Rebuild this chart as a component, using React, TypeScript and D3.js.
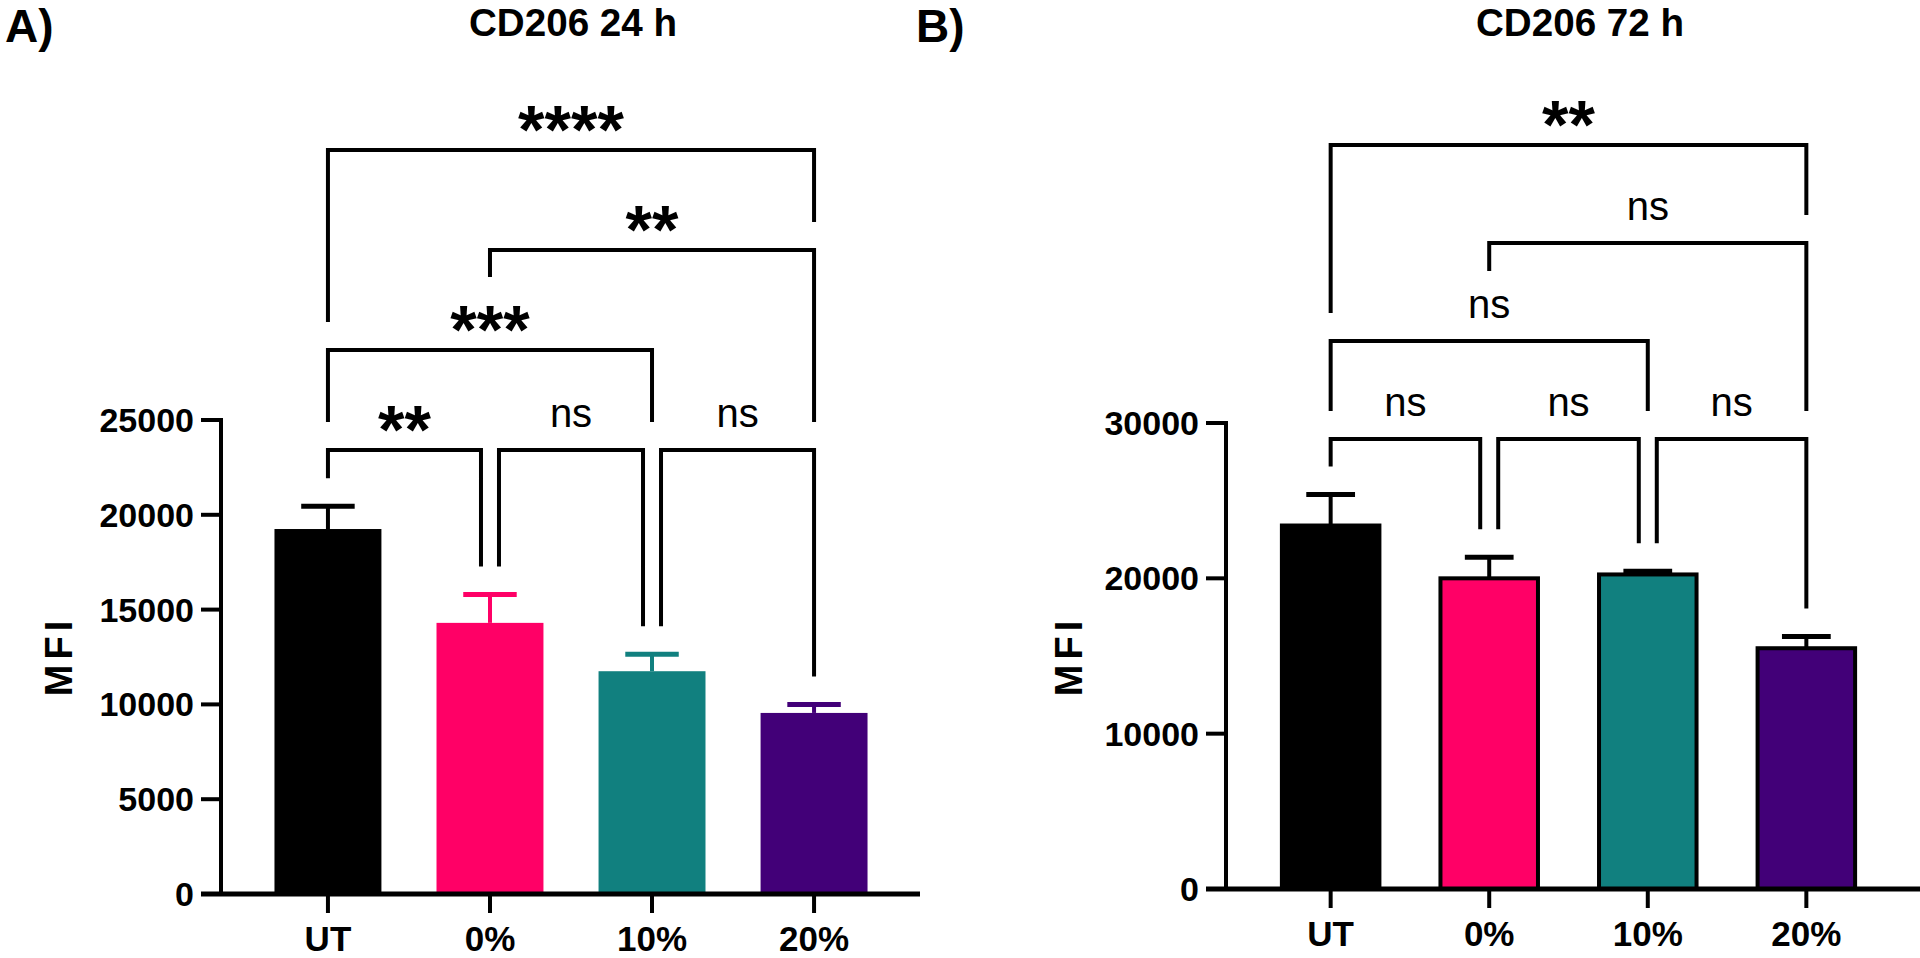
import * as d3 from "d3";

// categories and values
const categories = ["UT", "0%", "10%", "20%"];
const barColors = ["#000000", "#ff0066", "#11807f", "#420078"];

const mean24 = [19250, 14300, 11750, 9550];
const sem24 = [1200, 1500, 900, 450];
const ticks24 = [0, 5000, 10000, 15000, 20000, 25000];
// [from, to, label, row]
const tests24: [number, number, string, number][] = [
  [0, 1, "**", 0],
  [1, 2, "ns", 0],
  [2, 3, "ns", 0],
  [0, 2, "***", 1],
  [1, 3, "**", 2],
  [0, 3, "****", 3],
];

const mean72 = [23400, 20000, 20250, 15500];
const sem72 = [2000, 1350, 200, 750];
const ticks72 = [0, 10000, 20000, 30000];
const tests72: [number, number, string, number][] = [
  [0, 1, "ns", 0],
  [1, 2, "ns", 0],
  [2, 3, "ns", 0],
  [0, 2, "ns", 1],
  [1, 3, "ns", 2],
  [0, 3, "**", 3],
];

const FONT = "'Liberation Sans', Arial, sans-serif";

type PanelProps = {
  tag: string;
  tagX: number;
  title: string;
  titleX: number;
  means: number[];
  sems: number[];
  ticks: number[];
  tests: [number, number, string, number][];
  axisX: number;
  xEnd: number;
  axisEnd: number;
  y0: number;
  yTop: number;
  mfiX: number;
  rowY: number;
  rowGap: number;
  outlined: boolean;
};

function Panel(p: PanelProps) {
  const yMax = p.ticks[p.ticks.length - 1];
  const y = d3.scaleLinear().domain([0, yMax]).range([p.y0, p.yTop]);
  const x = d3.scalePoint<string>().domain(categories).range([p.axisX, p.xEnd]).padding(0.66);
  const step = x.step();
  const bw = step * (p.outlined ? 0.615 : 0.66);
  const capW = bw / 2;

  const brackets = p.tests.map((t) => {
    const [a, b, label, row] = t;
    const shareLeft = p.tests.some((o) => o !== t && o[3] === row && o[1] === a);
    const shareRight = p.tests.some((o) => o !== t && o[3] === row && o[0] === b);
    const x1 = (x(categories[a]) as number) + (shareLeft ? 9 : 0);
    const x2 = (x(categories[b]) as number) - (shareRight ? 9 : 0);
    const ly = p.rowY - row * p.rowGap;
    const stars = label !== "ns";
    return {
      a, b, label, row, x1, x2, y: ly, stars,
      cx: (x1 + x2) / 2,
      half: stars ? label.length * 14 : 21,
      top: ly - (stars ? 47 : 44),
    };
  });

  // a bracket leg stops just above whatever sits below it
  const legEnd = (xx: number, col: number, row: number) => {
    const cands = [y(p.means[col] + p.sems[col]) - 28];
    brackets.forEach((o) => {
      if (o.row >= row) return;
      if (xx >= o.x1 - 20 && xx <= o.x2 + 20) cands.push(o.y - 28);
      if (Math.abs(xx - o.cx) <= o.half) cands.push(o.top - 26);
    });
    return Math.min(...cands);
  };

  return (
    <g>
      <text x={p.tagX} y={42} fontFamily={FONT} fontWeight="bold" fontSize={46}>
        {p.tag}
      </text>
      <text
        x={p.titleX}
        y={36}
        textAnchor="middle"
        fontFamily={FONT}
        fontWeight="bold"
        fontSize={38}
        textLength={208}
        lengthAdjust="spacingAndGlyphs"
      >
        {p.title}
      </text>

      {/* bars */}
      {categories.map((c, i) => {
        const cx = x(c) as number;
        return (
          <g key={c}>
            <rect
              x={cx - bw / 2}
              y={y(p.means[i])}
              width={bw}
              height={p.y0 - y(p.means[i])}
              fill={barColors[i]}
              stroke={p.outlined ? "#000" : "none"}
              strokeWidth={4}
            />
            <line
              x1={cx}
              x2={cx}
              y1={y(p.means[i])}
              y2={y(p.means[i] + p.sems[i])}
              stroke={p.outlined ? "#000" : barColors[i]}
              strokeWidth={4}
            />
            <line
              x1={cx - capW / 2}
              x2={cx + capW / 2}
              y1={y(p.means[i] + p.sems[i])}
              y2={y(p.means[i] + p.sems[i])}
              stroke={p.outlined ? "#000" : barColors[i]}
              strokeWidth={5}
            />
          </g>
        );
      })}

      {/* axes */}
      <line x1={p.axisX} x2={p.axisX} y1={p.yTop - 2} y2={p.y0 + 2} stroke="#000" strokeWidth={4} />
      <line x1={p.axisX - 20} x2={p.axisEnd} y1={p.y0} y2={p.y0} stroke="#000" strokeWidth={5} />
      {p.ticks.map((t) => (
        <g key={t}>
          <line x1={p.axisX - 20} x2={p.axisX} y1={y(t)} y2={y(t)} stroke="#000" strokeWidth={4} />
          <text
            x={p.axisX - 27}
            y={y(t) + 12}
            textAnchor="end"
            fontFamily={FONT}
            fontWeight="bold"
            fontSize={34}
          >
            {t}
          </text>
        </g>
      ))}
      {categories.map((c) => (
        <g key={c}>
          <line x1={x(c)} x2={x(c)} y1={p.y0} y2={p.y0 + 19} stroke="#000" strokeWidth={4} />
          <text
            x={x(c)}
            y={p.y0 + 57}
            textAnchor="middle"
            fontFamily={FONT}
            fontWeight="bold"
            fontSize={35}
          >
            {c}
          </text>
        </g>
      ))}
      <text
        transform={`translate(${p.mfiX}, 656) rotate(-90)`}
        textAnchor="middle"
        fontFamily={FONT}
        fontWeight="bold"
        fontSize={38}
        letterSpacing={5}
      >
        MFI
      </text>

      {/* significance brackets */}
      {brackets.map((b, k) => (
        <g key={k}>
          <path
            d={`M${b.x1},${legEnd(b.x1, b.a, b.row)}V${b.y}H${b.x2}V${legEnd(b.x2, b.b, b.row)}`}
            fill="none"
            stroke="#000"
            strokeWidth={4}
          />
          <text
            x={b.cx}
            y={b.stars ? b.y + 3 : b.y - 23}
            textAnchor="middle"
            fontFamily={FONT}
            fontWeight={b.stars ? "bold" : "normal"}
            fontSize={b.stars ? 68 : 40}
          >
            {b.label}
          </text>
        </g>
      ))}
    </g>
  );
}

export default function App() {
  return (
    <svg
      width={1920}
      height={958}
      style={{ position: "absolute", left: 0, top: 0, background: "#fff" }}
    >
      <rect width={1920} height={958} fill="#fff" />
      <Panel
        tag="A)"
        tagX={5}
        title="CD206 24 h"
        titleX={573}
        means={mean24}
        sems={sem24}
        ticks={ticks24}
        tests={tests24}
        axisX={221}
        xEnd={921}
        axisEnd={920}
        y0={894}
        yTop={420}
        mfiX={72}
        rowY={450}
        rowGap={100}
        outlined={false}
      />
      <Panel
        tag="B)"
        tagX={916}
        title="CD206 72 h"
        titleX={1580}
        means={mean72}
        sems={sem72}
        ticks={ticks72}
        tests={tests72}
        axisX={1226}
        xEnd={1911}
        axisEnd={1920}
        y0={889}
        yTop={423}
        mfiX={1082}
        rowY={439}
        rowGap={98}
        outlined={true}
      />
    </svg>
  );
}
